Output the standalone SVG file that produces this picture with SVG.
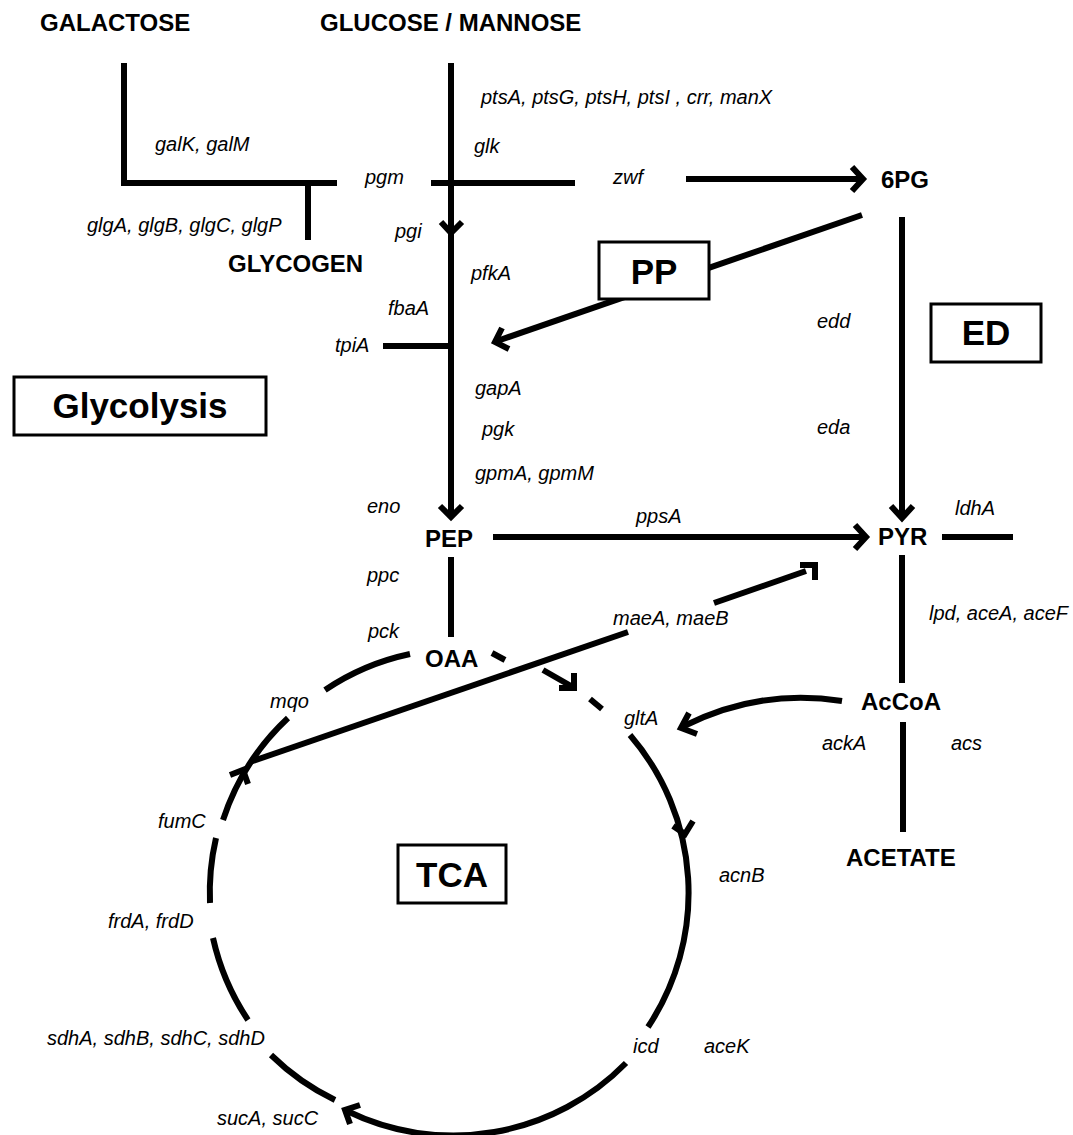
<svg xmlns="http://www.w3.org/2000/svg" width="1073" height="1135" viewBox="0 0 1073 1135">
<style>
.ln{stroke:#000;stroke-width:6;fill:none;stroke-linecap:butt}
.ah{stroke:#000;stroke-width:6;fill:none;stroke-linejoin:miter;stroke-linecap:butt}
.g{font-family:"Liberation Sans",Arial,sans-serif;font-style:italic;font-size:20px;fill:#000}
.m{font-family:"Liberation Sans",Arial,sans-serif;font-weight:bold;font-size:24px;fill:#000}
.bx{fill:#fff;stroke:#000;stroke-width:3}
.bt{font-family:"Liberation Sans",Arial,sans-serif;font-weight:bold;font-size:35px;text-anchor:middle;fill:#000}
</style>
<rect width="1073" height="1135" fill="#fff"/>
<g id="connectors">
  <!-- galactose / glycogen -->
  <polyline class="ln" points="124,63 124,183 337,183" style="stroke-linejoin:miter"/>
  <line class="ln" x1="308" y1="183" x2="308" y2="240"/>
  <!-- glycolysis main -->
  <line class="ln" x1="451" y1="63" x2="451" y2="517"/>
  <polyline class="ah" points="441,222 451,233 462,222"/>
  <polyline class="ah" points="440,506 451,517 462,506"/>
  <line class="ln" x1="431" y1="183" x2="575" y2="183"/>
  <line class="ln" x1="383" y1="346" x2="451" y2="346"/>
  <!-- zwf -->
  <line class="ln" x1="686" y1="179" x2="862" y2="179"/>
  <polyline class="ah" points="852,167 863,179 852,191"/>
  <!-- PP -->
  <line class="ln" x1="862" y1="215" x2="497" y2="341"/>
  <polyline class="ah" points="502,328 495,342 509,349"/>
  <!-- ED -->
  <line class="ln" x1="902" y1="217" x2="902" y2="517"/>
  <polyline class="ah" points="891,506 902,518 913,506"/>
  <!-- PEP to PYR -->
  <line class="ln" x1="493" y1="537" x2="865" y2="537"/>
  <polyline class="ah" points="855,525 866,537 855,549"/>
  <line class="ln" x1="942" y1="537" x2="1013" y2="537"/>
  <line class="ln" x1="902" y1="555" x2="902" y2="683"/>
  <line class="ln" x1="903" y1="722" x2="903" y2="832"/>
  <line class="ln" x1="451" y1="557" x2="451" y2="637"/>
  <!-- maeA -->
  <line class="ln" x1="250" y1="762" x2="628" y2="632"/>
  <line class="ln" x1="714" y1="603" x2="806" y2="571"/>
  <polyline class="ah" points="800,565 815,565 815,580"/>
  <!-- AcCoA to gltA -->
  <path class="ln" d="M842,701 Q760,688 684,726"/>
  <polyline class="ah" points="689,713 681,728 697,734"/>
  <!-- OAA dashes to gltA -->
  <line class="ln" x1="492" y1="653" x2="505" y2="660"/>
  <line class="ln" x1="543" y1="670" x2="571" y2="686"/>
  <polyline class="ah" points="574,673 574,688 559,688"/>
  <line class="ln" x1="590" y1="699" x2="602" y2="709"/>
  <!-- TCA circle arcs -->
  <path class="ln" d="M325,690 A242,242 0 0 1 410,654"/>
  <path class="ln" d="M223,820 A242,242 0 0 1 288,718"/>
  <polyline class="ah" points="230,775 243,770 248,784"/>
  <path class="ln" d="M210,903 A242,242 0 0 1 216,838"/>
  <path class="ln" d="M248,1020 A242,242 0 0 1 213,938"/>
  <path class="ln" d="M335,1100 A242,242 0 0 1 271,1055"/>
  <path class="ln" d="M626,1063 A242,242 0 0 1 347,1111"/>
  <polyline class="ah" points="360,1105 345,1110 350,1124"/>
  <path class="ln" d="M630,735 A242,242 0 0 1 648,1027"/>
  <polyline class="ah" points="673,826 685,834 693,821"/>
</g>
<g id="GALACTOSE"><text class="m" x="40" y="31">GALACTOSE</text></g>
<g id="GLUCOSE_MANNOSE"><text class="m" x="320" y="31">GLUCOSE / MANNOSE</text></g>
<g id="GLYCOGEN"><text class="m" x="228" y="272">GLYCOGEN</text></g>
<g id="6PG"><text class="m" x="881" y="188">6PG</text></g>
<g id="PEP"><text class="m" x="425" y="547">PEP</text></g>
<g id="PYR"><text class="m" x="878" y="545">PYR</text></g>
<g id="OAA"><text class="m" x="425" y="667">OAA</text></g>
<g id="AcCoA"><text class="m" x="861" y="710">AcCoA</text></g>
<g id="ACETATE"><text class="m" x="846" y="866">ACETATE</text></g>
<g id="PP"><rect class="bx" x="599" y="242" width="110" height="57"/><text class="bt" x="654" y="284">PP</text></g>
<g id="ED"><rect class="bx" x="931" y="304" width="110" height="58"/><text class="bt" x="986" y="345">ED</text></g>
<g id="Glycolysis"><rect class="bx" x="14" y="377" width="252" height="58"/><text class="bt" x="140" y="418">Glycolysis</text></g>
<g id="TCA"><rect class="bx" x="398" y="845" width="108" height="58"/><text class="bt" x="452" y="887">TCA</text></g>
<g id="genes">
  <text class="g" x="481" y="104">ptsA, ptsG, ptsH, ptsI , crr, manX</text>
  <text class="g" x="155" y="151">galK, galM</text>
  <text class="g" x="474" y="153">glk</text>
  <text class="g" x="365" y="184">pgm</text>
  <text class="g" x="613" y="184">zwf</text>
  <text class="g" x="87" y="232">glgA, glgB, glgC, glgP</text>
  <text class="g" x="395" y="238">pgi</text>
  <text class="g" x="471" y="280">pfkA</text>
  <text class="g" x="388" y="315">fbaA</text>
  <text class="g" x="817" y="328">edd</text>
  <text class="g" x="335" y="352">tpiA</text>
  <text class="g" x="475" y="395">gapA</text>
  <text class="g" x="482" y="436">pgk</text>
  <text class="g" x="817" y="434">eda</text>
  <text class="g" x="475" y="480">gpmA, gpmM</text>
  <text class="g" x="367" y="513">eno</text>
  <text class="g" x="636" y="523">ppsA</text>
  <text class="g" x="955" y="515">ldhA</text>
  <text class="g" x="367" y="582">ppc</text>
  <text class="g" x="929" y="620">lpd, aceA, aceF</text>
  <text class="g" x="613" y="625">maeA, maeB</text>
  <text class="g" x="368" y="638">pck</text>
  <text class="g" x="270" y="708">mqo</text>
  <text class="g" x="624" y="725">gltA</text>
  <text class="g" x="822" y="750">ackA</text>
  <text class="g" x="951" y="750">acs</text>
  <text class="g" x="158" y="828">fumC</text>
  <text class="g" x="719" y="882">acnB</text>
  <text class="g" x="108" y="928">frdA, frdD</text>
  <text class="g" x="47" y="1045">sdhA, sdhB, sdhC, sdhD</text>
  <text class="g" x="633" y="1053">icd</text>
  <text class="g" x="704" y="1053">aceK</text>
  <text class="g" x="217" y="1125">sucA, sucC</text>
</g>
</svg>
